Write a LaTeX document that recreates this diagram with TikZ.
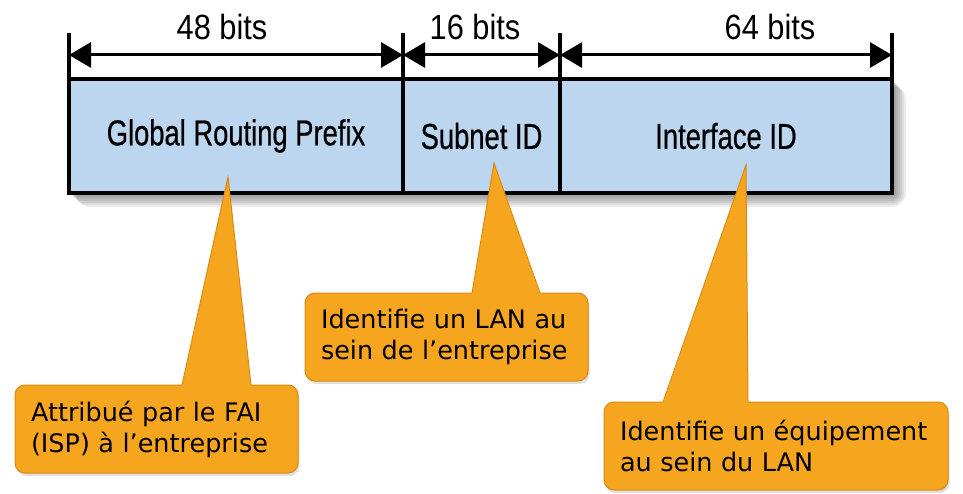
\documentclass[tikz,border=0pt]{standalone}
\usepackage{fontspec}
\usepackage{tikz}
\usetikzlibrary{arrows.meta,positioning,shadows,backgrounds}
\newfontfamily\fieldfont[FakeStretch=0.76,FakeBold=0.6]{Liberation Sans}
\newfontfamily\bitsfont[FakeStretch=0.88]{Liberation Sans}
\newfontfamily\notefont{DejaVu Sans}
\definecolor{fieldblue}{HTML}{BDD6EF}
\definecolor{noteorange}{HTML}{F6A51E}
\definecolor{noteedge}{HTML}{D98A12}

\begin{document}
\begin{tikzpicture}[
  x=1pt, y=-1pt,
  field/.style={draw, line width=4pt, fill=fieldblue, outer sep=0pt, inner sep=0pt, minimum height=114pt, font=\fieldfont\fontsize{36}{40}\selectfont},
  tick/.style={line width=3.5pt},
  dim/.style={{Triangle[length=22pt,width=25pt]}-{Triangle[length=22pt,width=25pt]}, line width=3pt},
  bits/.style={anchor=base, inner sep=0pt, font=\bitsfont\fontsize{35}{40}\selectfont},
  note/.style={fill=noteorange, draw=noteedge, line width=1pt, rounded corners=10pt, outer sep=0pt, align=left, inner xsep=16pt, minimum height=88pt, anchor=north west, font=\notefont\fontsize{25.5}{31}\selectfont, drop shadow={shadow xshift=1.5pt, shadow yshift=-3pt, opacity=0.25}},
  pointer/.style={fill=noteorange},
  pedge/.style={draw=noteedge, line width=1pt}
]
\useasboundingbox (0,0) rectangle (963,494);

\node[field, minimum width=334pt] (grp) at (236,136) {Global Routing Prefix};
\node[field, minimum width=157pt, right=0pt of grp] (sub) {Subnet ID};
\node[field, minimum width=332pt, right=0pt of sub] (ifid) {Interface ID};
\begin{scope}[on background layer]
  \foreach \s in {2,4,...,14}
    \fill[black, opacity=0.07, rounded corners=\s pt] ([xshift=0.5*\s pt, yshift=-0.5*\s pt]grp.north west) rectangle ([xshift=\s pt, yshift=-\s pt]ifid.south east);
\end{scope}

\foreach \f/\a in {grp/north west, sub/north west, ifid/north west, ifid/north east}
  \draw[tick] ([yshift=46pt]\f.\a) -- (\f.\a);
\coordinate (d0) at ([yshift=24pt]grp.north west);
\coordinate (d1) at ([yshift=24pt]sub.north west);
\coordinate (d2) at ([yshift=24pt]ifid.north west);
\coordinate (d3) at ([yshift=24pt]ifid.north east);
\draw[dim] (d0) -- (d1);
\draw[dim] (d1) -- (d2);
\draw[dim] (d2) -- (d3);
\node[bits] (b48) at (222,40) {48 bits};
\node[bits] (b16) at (475,40) {16 bits};
\node[bits] (b64) at (770,40) {64 bits};

\node[note, text width=251pt] (isp) at (15,385) {Attribué par le FAI\\(ISP) à l’entreprise};
\node[note, text width=251pt] (lan) at (305,293) {Identifie un LAN au\\sein de l’entreprise};
\node[note, text width=312pt] (host) at (604,402) {Identifie un équipement\\au sein du LAN};

\coordinate (tipgrp) at ([xshift=-8pt,yshift=16pt]grp.south);
\coordinate (tipsub) at ([xshift=12.5pt,yshift=30pt]sub.south);
\coordinate (tipif) at ([xshift=20pt,yshift=28pt]ifid.south);
\foreach \n/\t/\a/\b in {isp/tipgrp/167/236, lan/tipsub/167/235, host/tipif/59/144} {
  \fill[pointer] ([xshift=\a pt,yshift=-1.5pt]\n.north west) -- (\t) -- ([xshift=\b pt,yshift=-1.5pt]\n.north west) -- cycle;
  \draw[pedge] ([xshift=\a pt]\n.north west) -- (\t) -- ([xshift=\b pt]\n.north west);
}
\end{tikzpicture}
\end{document}
